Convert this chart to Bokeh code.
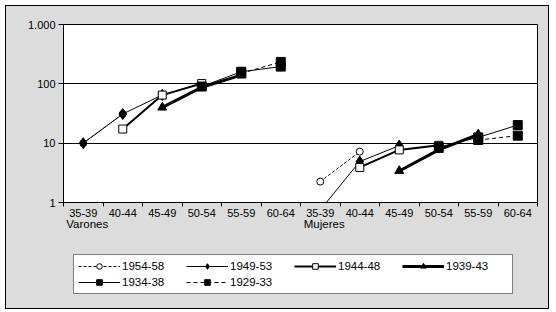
import math
from bokeh.plotting import figure
from bokeh.layouts import column
from bokeh.models import (FactorRange, FixedTicker, LinearAxis, Range1d,
                          Legend, LegendItem, ColumnDataSource)
from bokeh.embed import file_html
from bokeh.resources import INLINE

nan = float("nan")

ages = ["35-39", "40-44", "45-49", "50-54", "55-59", "60-64"]
sexes = ["Varones", "Mujeres"]
sex_keys = ["V", "M"]

cohorts = ["1954-58", "1949-53", "1944-48", "1939-43", "1934-38", "1929-33"]

# values: Varones ages then Mujeres ages
v1954 = [10, 31, nan, nan, nan, nan]
m1954 = [2.25, 7.2, nan, nan, nan, nan]
v1949 = [10, 31, 65, nan, nan, nan]
m1949 = [0.75, 4.9, 9.1, nan, nan, nan]
v1944 = [nan, 17.3, 64.6, 101, nan, nan]
m1944 = [nan, 3.9, 7.7, 9.2, nan, nan]
v1939 = [nan, nan, 40, 87, 140, nan]
m1939 = [nan, nan, 3.4, 7.7, 14.1, nan]
v1934 = [nan, nan, nan, 90, 160, 195]
m1934 = [nan, nan, nan, 8.6, 12.5, 20.2]
v1929 = [nan, nan, nan, nan, 150, 234]
m1929 = [nan, nan, nan, nan, 11.3, 13.4]

series = {
    "1954-58": v1954 + m1954,
    "1949-53": v1949 + m1949,
    "1944-48": v1944 + m1944,
    "1939-43": v1939 + m1939,
    "1934-38": v1934 + m1934,
    "1929-33": v1929 + m1929,
}

y_ticks = [1, 10, 100, 1000]
y_tick_labels = ["1", "10", "100", "1.000"]

factors = [f"{k} {a}" for k in sex_keys for a in ages]
n = len(factors)

styles = {
    "1954-58": dict(marker="circle", size=7, fill="white", width=1, dash="3 2"),
    "1949-53": dict(marker="diamond", size=11, fill="black", width=1, dash="solid"),
    "1944-48": dict(marker="square", size=8, fill="white", width=2, dash="solid"),
    "1939-43": dict(marker="triangle", size=9, fill="black", width=3, dash="solid"),
    "1934-38": dict(marker="square", size=9, fill="black", width=1, dash="solid"),
    "1929-33": dict(marker="square", size=9, fill="black", width=1, dash="4 3"),
}

FONT = "Liberation Sans"
GREY = "#dcdcdc"

p = figure(frame_width=474, frame_height=178, x_range=FactorRange(*factors),
           y_axis_type="log", y_range=(1, 1000),
           x_axis_location=None,
           output_backend="svg", toolbar_location=None,
           min_border_left=57, min_border_right=11, min_border_top=18,
           min_border_bottom=50,
           background_fill_color="white", border_fill_color=GREY,
           outline_line_color="black", outline_line_width=1)

# y axis
p.yaxis.ticker = FixedTicker(ticks=y_ticks, minor_ticks=[])
p.yaxis.major_label_overrides = dict(zip(y_ticks, y_tick_labels))
p.yaxis.axis_line_color = "black"
p.yaxis.major_tick_line_color = "black"
p.yaxis.major_tick_out = 5
p.yaxis.major_tick_in = 0
p.yaxis.minor_tick_line_color = None
p.yaxis.major_label_text_font = FONT
p.yaxis.major_label_text_font_size = "11px"
p.yaxis.major_label_text_color = "black"
p.yaxis.major_label_standoff = 3

p.ygrid.ticker = FixedTicker(ticks=[10, 100])
p.ygrid.grid_line_color = "black"
p.ygrid.grid_line_width = 1
p.xgrid.grid_line_color = None

# x axis: labels at category centres, tick marks at category boundaries
centers = [i + 0.5 for i in range(n)]
x_axis = LinearAxis(ticker=FixedTicker(ticks=centers, minor_ticks=list(range(n + 1))),
                    major_label_overrides={c: ages[i % len(ages)] for i, c in enumerate(centers)},
                    major_tick_line_color=None,
                    major_tick_out=0, major_tick_in=0,
                    minor_tick_line_color="black",
                    minor_tick_out=4, minor_tick_in=0,
                    axis_line_color="black",
                    major_label_standoff=2,
                    major_label_text_font=FONT,
                    major_label_text_font_size="11px",
                    major_label_text_color="black")
p.add_layout(x_axis, "below")

group_ticks = [i * len(ages) + 0.6 for i in range(len(sexes))]
group_axis = LinearAxis(ticker=FixedTicker(ticks=group_ticks, minor_ticks=[]),
                        major_label_overrides=dict(zip(group_ticks, sexes)),
                        major_tick_line_color=None,
                        major_tick_out=0, major_tick_in=0,
                        minor_tick_line_color=None,
                        axis_line_color=None,
                        major_label_standoff=-2,
                        major_label_text_font=FONT,
                        major_label_text_font_size="11.5px",
                        major_label_text_color="black")
p.add_layout(group_axis, "below")

# legend panel as a second figure, frame aligned with the main one
q = figure(frame_width=474, frame_height=56, x_range=Range1d(0, 1), y_range=Range1d(0, 1),
           x_axis_location=None, y_axis_location=None,
           output_backend="svg", toolbar_location=None,
           min_border_left=57, min_border_right=11,
           min_border_top=0, min_border_bottom=0,
           background_fill_color=GREY, border_fill_color=GREY,
           outline_line_color=None)
q.xgrid.grid_line_color = None
q.ygrid.grid_line_color = None

items = []
for c in cohorts:
    st = styles[c]
    src = ColumnDataSource(dict(x=factors, y=series[c]))
    p.line("x", "y", source=src, line_color="black",
           line_width=st["width"], line_dash=st["dash"])
    p.scatter("x", "y", source=src, marker=st["marker"], size=st["size"],
              fill_color=st["fill"], line_color="black", line_width=1)
    # legend-only proxies (no visible data)
    proxy = ColumnDataSource(dict(x=[nan], y=[nan]))
    lr = q.line("x", "y", source=proxy, line_color="black",
                line_width=st["width"], line_dash=st["dash"])
    sr = q.scatter("x", "y", source=proxy, marker=st["marker"], size=st["size"],
                   fill_color=st["fill"], line_color="black", line_width=1)
    items.append(LegendItem(label=c, renderers=[lr, sr]))

legend = Legend(items=items, ncols=4, orientation="horizontal", location=(10, 14),
                border_line_color="black", border_line_width=1,
                background_fill_color="white", background_fill_alpha=1,
                label_text_font=FONT, label_text_font_size="11.5px",
                label_text_color="black",
                glyph_width=42, glyph_height=14, label_standoff=2,
                label_width=62, spacing=2, padding=4, margin=0,
                label_height=14)
q.add_layout(legend, "center")

layout = column(p, q, spacing=0)
layout.margin = (5, 0, 0, 5)
layout.styles = {"border": "1px solid black", "background-color": GREY}

open("out.html", "w").write(file_html(layout, INLINE))
